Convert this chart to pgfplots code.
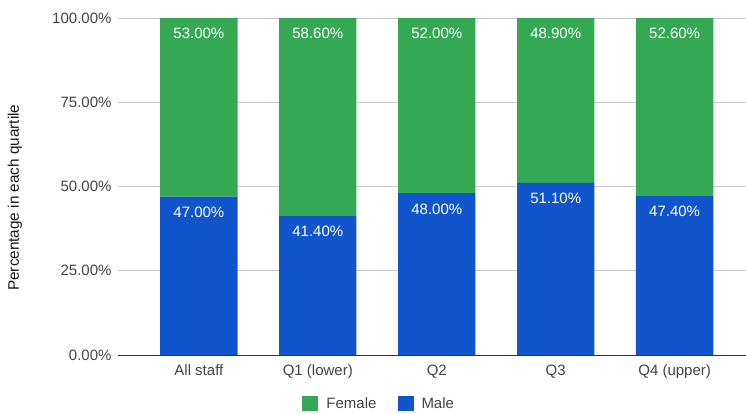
\documentclass[border=0pt]{standalone}
\usepackage{fontspec}
\setmainfont{Liberation Sans}
\usepackage{pgfplots}
\pgfplotsset{compat=1.18}
\definecolor{gfemale}{HTML}{34A853}
\definecolor{gmale}{HTML}{1155CC}
\definecolor{tickgray}{HTML}{444444}
\pgfplotsset{commonax/.style={
  at={(0pt,0pt)}, anchor=south west,
  scale only axis, width=628pt, height=337pt,
  xmin=-0.68, xmax=4.6, ymin=0, ymax=100,
}}
\begin{document}
\begin{tikzpicture}
\path[use as bounding box] (-118pt,-59pt) rectangle (628pt,355pt);
\begin{axis}[
  commonax,
  ybar stacked, bar width=0.65,
  axis x line*=bottom, axis y line*=left,
  y axis line style={draw=none},
  x axis line style={draw=black!80, line width=0.9pt},
  major tick length=0pt,
  ymajorgrids, grid style={draw=black!20, line width=0.8pt},
  ytick={0,25,50,75,100},
  yticklabel={\pgfmathprintnumber[fixed,fixed zerofill,precision=2]{\tick}\%},
  /pgf/number format/assume math mode=true,
  xtick=data,
  xticklabels={All staff, Q1 (lower), Q2, Q3, Q4 (upper)},
  ticklabel style={font=\fontsize{15}{18}\selectfont, text=tickgray},
  yticklabel style={xshift=-3pt},
  xticklabel style={yshift=-6pt},
  ylabel={Percentage in each quartile},
  every axis y label/.style={at={(axis description cs:-0.164,0.467)}, rotate=90, anchor=center, font=\fontsize{15.3}{18}\selectfont, text=black!90},
  reverse legend,
  legend columns=2,
  legend style={at={(axis description cs:0.416,-0.145)}, anchor=center, draw=none, fill=none,
    font=\fontsize{15}{18}\selectfont, text=tickgray,
    /tikz/every odd column/.append style={column sep=6pt},
    /tikz/every even column/.append style={column sep=19pt}},
  legend image code/.code={\fill[#1,draw=none] (0pt,-7.5pt) rectangle (16pt,8pt);},
]
\addplot[fill=gmale, draw=none] coordinates {
  (0,47) (1,41.4) (2,48) (3,51.1) (4,47.4)
};
\addlegendentry{Male}
\addplot[fill=gfemale, draw=none] coordinates {
  (0,53) (1,58.6) (2,52) (3,48.9) (4,52.6)
};
\addlegendentry{Female}
\end{axis}
\begin{axis}[
  commonax, hide axis,
  point meta=explicit symbolic,
  nodes near coords,
  every node near coord/.append style={anchor=north, yshift=-7pt, font=\fontsize{15}{18}\selectfont, text=white},
]
\addplot[draw=none, mark=none] coordinates {
  (0,47) [47.00\%]
  (1,41.4) [41.40\%]
  (2,48) [48.00\%]
  (3,51.1) [51.10\%]
  (4,47.4) [47.40\%]
};
\addplot[draw=none, mark=none] coordinates {
  (0,100) [53.00\%]
  (1,100) [58.60\%]
  (2,100) [52.00\%]
  (3,100) [48.90\%]
  (4,100) [52.60\%]
};
\end{axis}
\end{tikzpicture}
\end{document}
